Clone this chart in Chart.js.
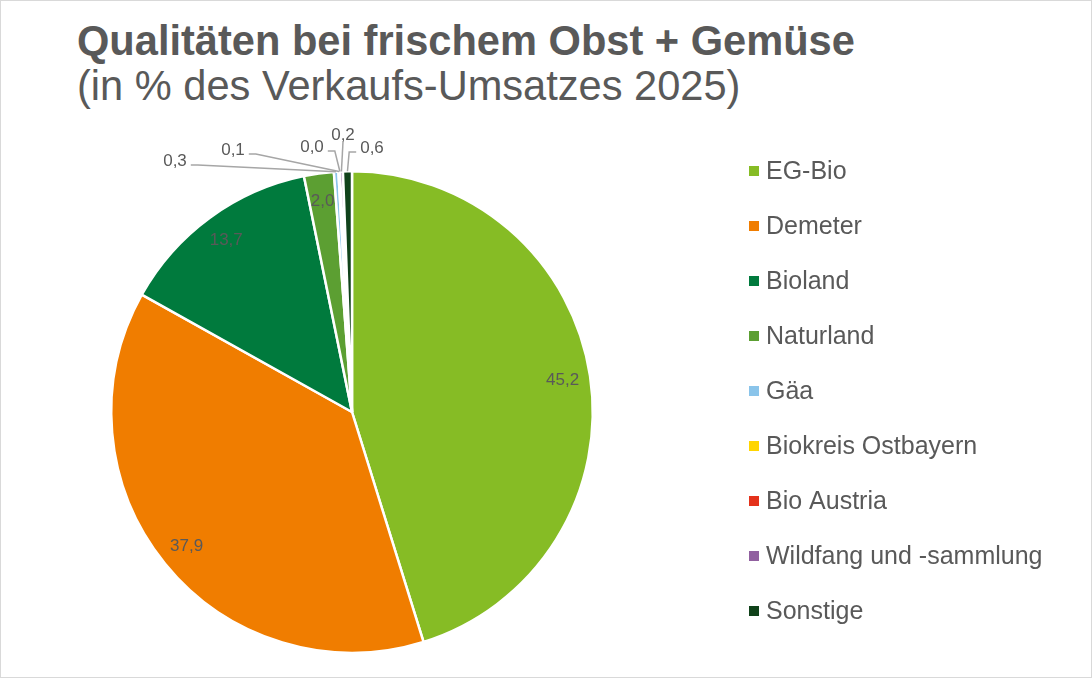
<!DOCTYPE html>
<html>
<head>
<meta charset="utf-8">
<script src="https://cdn.jsdelivr.net/npm/chart.js@4.4.1/dist/chart.umd.min.js"></script>
<style>
  html, body { margin: 0; padding: 0; background: #fff; }
  #frame {
    position: relative; width: 1092px; height: 678px;
    box-sizing: border-box; border: 1px solid #d9d9d9; overflow: hidden;
    font-family: "Liberation Sans", Arial, sans-serif; color: #595959;
  }
  .title { position: absolute; left: 76px; font-size: 41.6px; line-height: 41.6px; white-space: nowrap; }
  #t1 { top: 19px; font-weight: bold; }
  #t2 { top: 64px; }
  #chart { position: absolute; left: -1px; top: -1px; }
</style>
</head>
<body>
<div id="frame">
  <div class="title" id="t1">Qualitäten bei frischem Obst + Gemüse</div>
  <div class="title" id="t2">(in % des Verkaufs-Umsatzes 2025)</div>
  <canvas id="chart" width="1092" height="678"></canvas>
</div>
<script>
// Anteile am Verkaufs-Umsatz 2025 (in %)
const labels = ['EG-Bio', 'Demeter', 'Bioland', 'Naturland', 'Gäa', 'Biokreis Ostbayern', 'Bio Austria', 'Wildfang und -sammlung', 'Sonstige'];
const shares = [45.2, 37.9, 13.7, 2.0, 0.3, 0.1, 0.0, 0.2, 0.6];
const colors = ['#86bc25', '#f07d00', '#007a3d', '#5c9f32', '#8ac4ea', '#ffd500', '#e4321b', '#9160a0', '#10421a'];

// placement of the small labels outside the pie (offset from pie centre, where the leader line leaves the text)
const outsideLabels = {
    4: { dx: -177, dy: -251, side: 'right' },
    5: { dx: -119, dy: -262, side: 'right' },
    6: { dx: -40, dy: -265, side: 'right' },
    7: { dx: -9, dy: -277, side: 'below' },
    8: { dx: 20, dy: -264, side: 'left' },
};

const fmt = (v) => v.toFixed(1).replace('.', ',');

const pieLabels = {
    id: 'pieLabels',
    afterDatasetsDraw(chart) {
        const ctx = chart.ctx;
        const meta = chart.getDatasetMeta(0);
        ctx.save();
        ctx.font = '17px "Liberation Sans", Arial, sans-serif';
        ctx.fillStyle = '#595959';
        ctx.textAlign = 'center';
        ctx.textBaseline = 'middle';
        meta.data.forEach((arc, i) => {
            const { x, y, startAngle, endAngle, outerRadius } = arc.getProps(['x', 'y', 'startAngle', 'endAngle', 'outerRadius'], true);
            const mid = (startAngle + endAngle) / 2;
            const text = fmt(shares[i]);
            const place = outsideLabels[i];
            if (!place) {
                const r = outerRadius * 0.885;
                ctx.fillText(text, x + Math.cos(mid) * r, y + Math.sin(mid) * r);
                return;
            }
            const lx = x + place.dx, ly = y + place.dy;
            ctx.fillText(text, lx, ly);
            const w = ctx.measureText(text).width;
            const px = x + Math.cos(mid) * outerRadius;
            const py = y + Math.sin(mid) * outerRadius;
            ctx.strokeStyle = '#a6a6a6';
            ctx.lineWidth = 1.5;
            ctx.beginPath();
            if (place.side === 'below') {
                ctx.moveTo(lx, ly + 7);
                ctx.lineTo(px, py);
            } else {
                const dir = place.side === 'right' ? 1 : -1;
                const sx = lx + dir * (w / 2 + 4);
                ctx.moveTo(sx, ly + 4);
                ctx.lineTo(sx + dir * 7, ly + 4);
                ctx.lineTo(px, py);
            }
            ctx.stroke();
        });
        ctx.restore();
    }
};

const sideLegend = {
    id: 'sideLegend',
    afterDraw(chart) {
        const ctx = chart.ctx;
        ctx.save();
        ctx.font = '25px "Liberation Sans", Arial, sans-serif';
        ctx.textBaseline = 'middle';
        ctx.textAlign = 'left';
        chart.data.labels.forEach((name, i) => {
            const cy = 171 + i * 55;
            ctx.fillStyle = chart.data.datasets[0].backgroundColor[i];
            ctx.fillRect(749, cy - 5, 10, 10);
            ctx.fillStyle = '#595959';
            ctx.fillText(name, 766, cy + 1);
        });
        ctx.restore();
    }
};

new Chart(document.getElementById('chart'), {
    type: 'pie',
    data: {
        labels: labels,
        datasets: [{
            data: shares,
            backgroundColor: colors,
            borderColor: '#ffffff',
            borderWidth: 2.5,
        }],
    },
    options: {
        responsive: false,
        animation: false,
        events: [],
        layout: { padding: { left: 110, top: 170, right: 498, bottom: 24 } },
        plugins: {
            legend: { display: false },
            tooltip: { enabled: false },
        },
    },
    plugins: [pieLabels, sideLegend],
});
</script>
</body>
</html>
